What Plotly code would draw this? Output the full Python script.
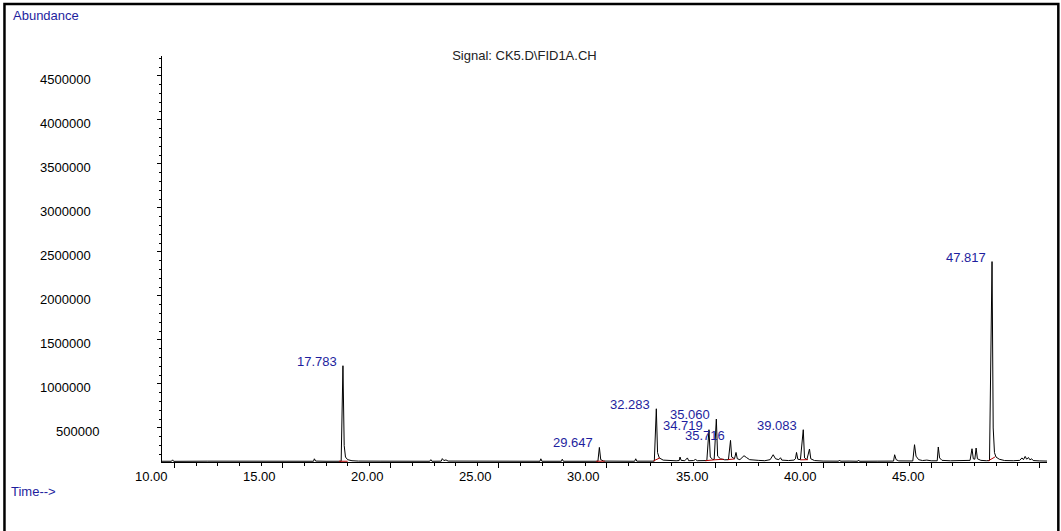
import plotly.graph_objects as go

# ---------------- data ----------------
signal_time = [
    9.41, 9.85, 9.90, 9.95, 11.5, 13.0, 14.5, 16.0,
    16.42, 16.46, 16.52, 17.0,
    17.70, 17.783, 17.84, 17.90, 18.0, 18.2, 18.5,
    19.5, 21.0, 21.80, 21.85, 21.90,
    22.33, 22.38, 22.45, 22.55, 22.65,
    24.0, 25.5, 26.90, 26.94, 26.99,
    27.89, 27.93, 27.98,
    28.8, 29.58, 29.647, 29.71, 29.85,
    30.6, 31.28, 31.33, 31.38,
    32.19, 32.283, 32.34, 32.42, 32.6, 32.9,
    33.2, 33.34, 33.38, 33.43, 33.6, 33.72, 33.78, 34.0, 34.1, 34.18,
    34.45, 34.62, 34.719, 34.78, 34.90, 34.96, 35.060, 35.12, 35.25, 35.45,
    35.62, 35.716, 35.77, 35.90, 35.97, 36.03, 36.15, 36.25, 36.34, 36.45, 36.6,
    37.0, 37.3, 37.55, 37.69, 37.8, 37.95, 38.03, 38.09, 38.4,
    38.65, 38.72, 38.77, 38.83, 38.95, 39.083, 39.14, 39.25, 39.37, 39.43, 39.6,
    40.0, 40.72, 40.76, 40.80, 41.2, 41.60, 41.64, 41.68,
    42.5, 43.26, 43.31, 43.38, 43.5,
    44.15, 44.23, 44.30, 44.42, 44.6, 44.8, 45.0,
    45.28, 45.33, 45.39, 45.5, 45.9, 46.5,
    46.80, 46.89, 46.95, 47.02, 47.08, 47.14, 47.3, 47.55,
    47.70, 47.817, 47.87, 47.93, 48.0, 48.15, 48.4,
    48.8, 49.1, 49.2, 49.27, 49.35, 49.42, 49.5, 49.57, 49.65, 49.72, 50.0, 50.36,
]
signal_abundance = [
    122000, 122000, 138000, 121000, 123000, 121000, 123000, 122000,
    122000, 150000, 124000, 122000,
    122000, 1207000, 300000, 170000, 140000, 128000, 124000,
    123000, 122000, 122000, 140000, 122000,
    123000, 152000, 130000, 137000, 124000,
    122000, 123000, 122000, 150000, 122000,
    122000, 145000, 122000,
    123000, 122000, 279000, 140000, 124000,
    122000, 122000, 150000, 123000,
    123000, 718000, 220000, 160000, 135000, 128000,
    127000, 130000, 170000, 132000, 128000, 160000, 128000, 130000, 142000, 128000,
    127000, 130000, 480000, 170000, 140000, 145000, 601000, 180000, 150000, 138000,
    140000, 359000, 170000, 150000, 222000, 150000, 140000, 160000, 185000, 165000, 140000,
    132000, 128000, 140000, 196000, 150000, 140000, 162000, 135000, 130000,
    135000, 150000, 222000, 145000, 140000, 480000, 160000, 140000, 261000, 150000, 130000,
    124000, 123000, 136000, 123000, 124000, 122000, 136000, 122000,
    123000, 124000, 196000, 140000, 126000,
    125000, 310000, 180000, 140000, 130000, 135000, 127000,
    127000, 284000, 160000, 132000, 127000, 128000,
    132000, 264000, 150000, 145000, 272000, 150000, 132000, 128000,
    130000, 2390000, 500000, 220000, 170000, 145000, 130000,
    128000, 132000, 160000, 140000, 177000, 145000, 165000, 138000, 150000, 130000, 126000, 124000,
]

# integrated peaks: retention-time labels and apex abundance
peak_labels = ["17.783", "29.647", "32.283", "34.719", "35.060", "35.716", "39.083", "47.817"]
peak_rt = [17.783, 29.647, 32.283, 34.719, 35.060, 35.716, 39.083, 47.817]
peak_height = [1207000, 279000, 718000, 480000, 601000, 359000, 480000, 2390000]

# integration baselines (red)
integ_start_t = [17.60, 29.50, 32.15, 34.55, 34.95, 35.58, 38.95, 47.65]
integ_end_t = [18.00, 29.90, 32.45, 34.95, 35.40, 35.90, 39.30, 47.95]
integ_start_a = [122000, 122000, 126000, 128000, 138000, 140000, 138000, 128000]
integ_end_a = [122000, 123000, 160000, 138000, 145000, 148000, 140000, 170000]

x_tick_vals = [10, 15, 20, 25, 30, 35, 40, 45]
x_tick_text = ["10.00", "15.00", "20.00", "25.00", "30.00", "35.00", "40.00", "45.00"]
y_tick_vals = [500000, 1000000, 1500000, 2000000, 2500000, 3000000, 3500000, 4000000, 4500000]
y_tick_text = ["500000", "1000000", "1500000", "2000000", "2500000", "3000000", "3500000", "4000000", "4500000"]

title_text = "Signal: CK5.D\\FID1A.CH"

# ---------------- figure ----------------
FONT = "Liberation Sans, Arial, sans-serif"
BLUE = "#1e1e9e"

fig = go.Figure()
fig.add_trace(go.Scatter(x=signal_time, y=signal_abundance, mode="lines",
                         line=dict(color="black", width=1), hoverinfo="skip"))

rx, ry = [], []
for s, e, sa, ea in zip(integ_start_t, integ_end_t, integ_start_a, integ_end_a):
    rx += [s, e, None]
    ry += [sa, ea, None]
fig.add_trace(go.Scatter(x=rx, y=ry, mode="lines",
                         line=dict(color="#b00000", width=1), hoverinfo="skip"))

ann = []
for lab, rt, h in zip(peak_labels, peak_rt, peak_height):
    ann.append(dict(x=rt, y=h, xref="x", yref="y", text=lab, showarrow=False,
                    xanchor="right", yanchor="middle", xshift=-4, yshift=4.5,
                    font=dict(family=FONT, size=13, color=BLUE)))
for v, t in zip(x_tick_vals, x_tick_text):
    ann.append(dict(x=v, y=0, xref="x", yref="paper", text=t, showarrow=False,
                    xanchor="center", yanchor="middle", xshift=-23, yshift=-14,
                    font=dict(family=FONT, size=13, color="black")))
for v, t in zip(y_tick_vals, y_tick_text):
    ann.append(dict(x=0, y=v, xref="paper", yref="y", text=t, showarrow=False,
                    xanchor="right", yanchor="middle",
                    xshift=(-61.5 if v == 500000 else -69), yshift=-3.3,
                    font=dict(family=FONT, size=13, color="black")))
ann.append(dict(x=0, y=1, xref="paper", yref="paper", text="Abundance", showarrow=False,
                xanchor="left", yanchor="middle", xshift=-151, yshift=41,
                font=dict(family=FONT, size=13, color=BLUE)))
ann.append(dict(x=0, y=0, xref="paper", yref="paper", text="Time-->", showarrow=False,
                xanchor="left", yanchor="middle", xshift=-153, yshift=-29,
                font=dict(family=FONT, size=13, color=BLUE)))

fig.update_layout(
    width=1061, height=531, autosize=False,
    margin=dict(l=162, r=14, t=56, b=69, pad=0),
    paper_bgcolor="white", plot_bgcolor="white",
    showlegend=False,
    title=dict(text=title_text, x=0.4943, xref="container", xanchor="center",
               y=1 - 55 / 531, yref="container", yanchor="middle",
               font=dict(family=FONT, size=13, color="#222222")),
    annotations=ann,
    shapes=[dict(type="rect", xref="paper", yref="paper",
                 x0=-0.178, x1=1.0128, y0=-0.2, y1=1.128,
                 line=dict(color="black", width=2.5), layer="above")],
    xaxis=dict(range=[9.41, 50.36], showgrid=False, zeroline=False,
               showline=True, linecolor="black", linewidth=1,
               tickmode="linear", tick0=10, dtick=5, ticks="outside", ticklen=5,
               tickcolor="black", tickwidth=1, showticklabels=False,
               minor=dict(dtick=1, tick0=10, ticks="outside", ticklen=3,
                          tickcolor="black", tickwidth=1, showgrid=False)),
    yaxis=dict(range=[113500, 4725000], showgrid=False, zeroline=False,
               showline=True, linecolor="black", linewidth=1,
               tickmode="linear", tick0=500000, dtick=500000, ticks="outside", ticklen=4,
               tickcolor="black", tickwidth=1, showticklabels=False,
               minor=dict(dtick=100000, tick0=0, ticks="outside", ticklen=2,
                          tickcolor="black", tickwidth=1, showgrid=False)),
)

fig.write_html("out.html")
